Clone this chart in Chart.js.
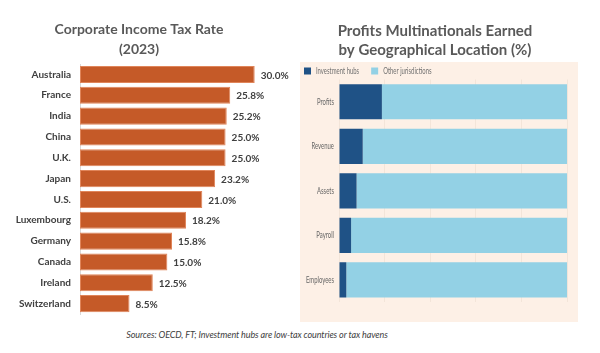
<!DOCTYPE html>
<html>
<head>
<meta charset="utf-8">
<script src="https://cdn.jsdelivr.net/npm/chart.js@4.4.0/dist/chart.umd.min.js"></script>
<style>
    html, body { margin: 0; padding: 0; background: #fff; }
    #wrap { position: relative; width: 600px; height: 353px; overflow: hidden; }
    #taxChart { position: absolute; left: 0; top: 0; }
    #panel { position: absolute; left: 300px; top: 62px; width: 278px; height: 260px; background: #fdf0e6; }
    #profitChart { position: absolute; left: 300px; top: 0; }
    #source {
        position: absolute; left: 0; top: 329px; width: 514px; text-align: center;
        font: italic 9px Lato, sans-serif; color: #404040; letter-spacing: -0.1px;
    }
</style>
</head>
<body>
<div id="wrap">
    <div id="panel"></div>
    <canvas id="taxChart" width="300" height="329"></canvas>
    <canvas id="profitChart" width="280" height="323"></canvas>
    <div id="source">Sources: OECD, FT; Investment hubs are low-tax countries or tax havens</div>
</div>
<script>
// 左: 法人税率 (2023)
const countries = ['Australia', 'France', 'India', 'China', 'U.K.', 'Japan', 'U.S.',
    'Luxembourg', 'Germany', 'Canada', 'Ireland', 'Switzerland'];
const taxRates = [30.0, 25.8, 25.2, 25.0, 25.0, 23.2, 21.0, 18.2, 15.8, 15.0, 12.5, 8.5];

// 右: 多国籍企業の利益の所在地 (%)
const measures = ['Profits', 'Revenue', 'Assets', 'Payroll', 'Employees'];
const seriesNames = ['Investment hubs', 'Other jurisdictions'];
const hubShare = [18.8, 10.4, 7.7, 5.3, 3.2];
const otherShare = hubShare.map(v => 100 - v);
const xTicks = [0, 20, 40, 60, 80, 100];

const GRAY_TEXT = '#404040';
const HUB_COLOR = '#1f5286';
const OTHER_COLOR = '#93d1e5';
const FT_FONT = 'Lato, sans-serif';
const SQUEEZE = 0.66; // FT charts use a narrow font

function squeezeText(ctx, text, x, y) {
    const w = ctx.measureText(text).width;
    ctx.fillText(text, x, y, w * SQUEEZE);
}

// bar end value labels
const valueLabels = {
    id: 'valueLabels',
    afterDatasetsDraw(chart) {
        const { ctx } = chart;
        const meta = chart.getDatasetMeta(0);
        ctx.save();
        ctx.font = 'bold 10px Lato, sans-serif';
        ctx.fillStyle = GRAY_TEXT;
        ctx.textBaseline = 'middle';
        ctx.textAlign = 'left';
        meta.data.forEach((bar, i) => {
            ctx.fillText(`${taxRates[i].toFixed(1)}%`, bar.x + 6, bar.y + 1);
        });
        ctx.restore();
    },
};

// narrow tick labels + legend for the FT style panel
const ftLabels = {
    id: 'ftLabels',
    afterDraw(chart) {
        const { ctx } = chart;
        const { x, y } = chart.scales;
        ctx.save();
        ctx.font = `9px ${FT_FONT}`;
        ctx.textBaseline = 'middle';

        ctx.fillStyle = '#666';
        ctx.textAlign = 'right';
        y.ticks.forEach((t, i) => {
            squeezeText(ctx, y.getLabelForValue(t.value), y.right - 5, y.getPixelForTick(i));
        });

        ctx.fillStyle = '#777';
        ctx.textAlign = 'center';
        x.ticks.forEach((t, i) => {
            squeezeText(ctx, String(t.value), x.getPixelForTick(i), x.bottom + 7);
        });

        // legend
        let lx = 4;
        const ly = 71;
        ctx.textAlign = 'left';
        chart.data.datasets.forEach((ds) => {
            ctx.fillStyle = ds.backgroundColor;
            ctx.fillRect(lx, ly - 3.5, 7, 7);
            ctx.fillStyle = '#707070';
            const w = ctx.measureText(ds.label).width * SQUEEZE;
            ctx.fillText(ds.label, lx + 12, ly, w);
            lx += 12 + w + 12;
        });
        ctx.restore();
    },
};

new Chart(document.getElementById('taxChart'), {
    type: 'bar',
    data: {
        labels: countries,
        datasets: [{
            data: taxRates,
            backgroundColor: '#c55a28',
            borderColor: '#e0855a',
            borderWidth: 1,
            borderSkipped: false,
            barPercentage: 0.82,
            categoryPercentage: 1,
        }],
    },
    options: {
        responsive: false,
        indexAxis: 'y',
        animation: false,
        // the y axis label padding also reserves space below the bars
        layout: { padding: { right: 22, bottom: 0 } },
        plugins: {
            legend: { display: false },
            tooltip: { enabled: false },
            title: {
                display: true,
                text: ['Corporate Income Tax Rate', '(2023)'],
                color: '#595959',
                font: { family: 'Lato, sans-serif', size: 14, weight: 'bold', lineHeight: 1.45 },
                padding: { top: 19, bottom: 4.4 },
            },
        },
        scales: {
            x: { display: false, min: 0, max: 34 },
            y: {
                grid: { display: false, drawTicks: false },
                border: { display: true, color: '#d9d9d9' },
                ticks: {
                    color: GRAY_TEXT,
                    padding: 9,
                    font: { family: 'Lato, sans-serif', size: 10, weight: 'bold' },
                },
                afterFit(scale) {
                    scale.width = 80;
                },
            },
        },
    },
    plugins: [valueLabels],
});

new Chart(document.getElementById('profitChart'), {
    type: 'bar',
    data: {
        labels: measures,
        datasets: [
            {
                label: seriesNames[0],
                data: hubShare,
                backgroundColor: HUB_COLOR,
                barPercentage: 0.79,
                categoryPercentage: 1,
            },
            {
                label: seriesNames[1],
                data: otherShare,
                backgroundColor: OTHER_COLOR,
                barPercentage: 0.79,
                categoryPercentage: 1,
            },
        ],
    },
    options: {
        responsive: false,
        indexAxis: 'y',
        animation: false,
        layout: { padding: { right: 10, left: 0 } },
        plugins: {
            tooltip: { enabled: false },
            legend: { display: false },
            title: {
                display: true,
                text: ['Profits Multinationals Earned', 'by Geographical Location (%)'],
                color: '#595959',
                font: { family: 'Lato, sans-serif', size: 15, weight: 'bold', lineHeight: 1.3 },
                padding: { top: 21, bottom: 19.5 },
            },
        },
        scales: {
            x: {
                stacked: true,
                min: 0,
                max: 100,
                afterBuildTicks(axis) {
                    axis.ticks = xTicks.map(v => ({ value: v }));
                },
                grid: { color: 'rgba(120, 90, 60, 0.07)', drawTicks: false },
                border: { display: false },
                ticks: {
                    color: 'transparent',
                    padding: 5,
                    font: { family: FT_FONT, size: 9 },
                },
            },
            y: {
                stacked: true,
                grid: { display: false, drawTicks: false },
                border: { display: false },
                ticks: {
                    color: 'transparent',
                    padding: 6,
                    font: { family: FT_FONT, size: 9 },
                },
                afterFit(scale) {
                    scale.width = 39;
                },
            },
        },
    },
    plugins: [ftLabels],
});
</script>
</body>
</html>
